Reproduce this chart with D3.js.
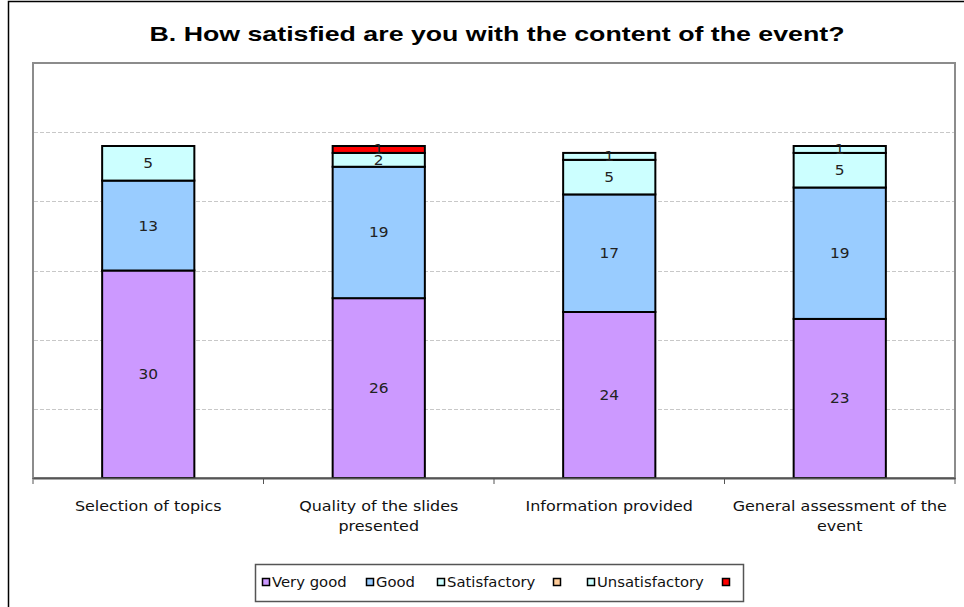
<!DOCTYPE html>
<html>
<head>
<meta charset="utf-8">
<script src="https://cdn.jsdelivr.net/npm/d3@7"></script>
<style>
  html, body { margin: 0; padding: 0; background: #fff; }
  svg { display: block; }
</style>
</head>
<body>
<svg id="chart" width="964" height="607"></svg>
<script>
// ---- data ----
const categories = [
  ["Selection of topics"],
  ["Quality of the slides", "presented"],
  ["Information provided"],
  ["General assessment of the", "event"]
];
const seriesNames = ["Very good", "Good", "Satisfactory", "", "Unsatisfactory", ""];
const veryGood      = [30, 26, 24, 23];
const good          = [13, 19, 17, 19];
const satisfactory  = [5, 2, 5, 5];
const blankOrange   = [0, 0, 0, 0];
const unsatisfactory= [0, 0, 1, 1];
const blankRed      = [0, 1, 0, 0];
const seriesColors  = ["#CC99FF", "#99CCFF", "#CCFFFF", "#FFCC99", "#CCFFFF", "#FF0000"];
const yTicks = [0, 10, 20, 30, 40, 50, 60];
const chartTitle = "B. How satisfied are you with the content of the event?";

const seriesValues = [veryGood, good, satisfactory, blankOrange, unsatisfactory, blankRed];
const table = categories.map((c, i) => {
  const row = { idx: i };
  seriesValues.forEach((s, k) => row["s" + k] = s[i]);
  return row;
});
const keys = seriesValues.map((_, k) => "s" + k);

const svg = d3.select("#chart");
const bodyFont = "Tahoma, 'DejaVu Sans', sans-serif";

// outer chart border
svg.append("rect").attr("x", 8.5).attr("y", 1.5).attr("width", 964).attr("height", 620)
  .attr("fill", "#fff").attr("stroke", "#000").attr("stroke-width", 1.5);

// title
svg.append("text").attr("x", 497).attr("y", 41).attr("text-anchor", "middle")
  .attr("font-family", "Arial, 'Liberation Sans', sans-serif").attr("font-weight", "bold")
  .attr("font-size", 21).attr("fill", "#000")
  .attr("textLength", 695).attr("lengthAdjust", "spacingAndGlyphs")
  .text(chartTitle);

const plot = { left: 33, right: 955, top: 63, bottom: 478 };

const x = d3.scaleBand().domain(d3.range(categories.length))
  .range([plot.left, plot.right]).padding(0);
const y = d3.scaleLinear().domain([0, 60]).range([plot.bottom, plot.top]);

// plot area frame
svg.append("rect").attr("x", plot.left).attr("y", plot.top)
  .attr("width", plot.right - plot.left).attr("height", plot.bottom - plot.top)
  .attr("fill", "#fff").attr("stroke", "#8c8c8c").attr("stroke-width", 2);

// gridlines
svg.append("g").selectAll("line").data(yTicks.filter(t => t > 0 && t < 60)).join("line")
  .attr("x1", plot.left + 1).attr("x2", plot.right - 1)
  .attr("y1", d => Math.round(y(d)) + 0.5).attr("y2", d => Math.round(y(d)) + 0.5)
  .attr("stroke", "#c8c8c8").attr("stroke-width", 1).attr("stroke-dasharray", "4,2");

// stacked bars
const stack = d3.stack().keys(keys)(table);
const barW = x.bandwidth() * 0.4;
const barX = i => x(i) + (x.bandwidth() - barW) / 2;

const layers = svg.append("g").selectAll("g").data(stack).join("g")
  .attr("fill", (d, k) => seriesColors[k]);
layers.selectAll("rect").data(d => d.filter(p => p[1] - p[0] > 0)).join("rect")
  .attr("x", p => barX(p.data.idx))
  .attr("y", p => y(p[1]))
  .attr("width", barW)
  .attr("height", p => y(p[0]) - y(p[1]))
  .attr("stroke", "#000").attr("stroke-width", 2);

// value labels
const labels = svg.append("g");
stack.forEach((layer, k) => {
  layer.forEach(p => {
    const v = p[1] - p[0];
    if (v <= 0) return;
    const cx = barX(p.data.idx) + barW / 2;
    labels.append("text")
      .attr("transform", `translate(${cx},${(y(p[0]) + y(p[1])) / 2 + 5}) scale(1.1,1)`)
      .attr("text-anchor", "middle")
      .attr("font-family", bodyFont)
      .attr("font-size", 14).attr("fill", "#222")
      .text(v);
  });
});

// x axis
const axis = d3.axisBottom(x).tickSize(0).tickFormat("");
const ax = svg.append("g").attr("transform", `translate(0,${plot.bottom})`).call(axis);
ax.select(".domain").attr("stroke", "#555").attr("stroke-width", 2);
// boundary tick marks
const bounds = d3.range(categories.length + 1).map(i => plot.left + i * x.step());
svg.append("g").selectAll("line").data(bounds).join("line")
  .attr("x1", d => d).attr("x2", d => d)
  .attr("y1", plot.bottom).attr("y2", plot.bottom + 6)
  .attr("stroke", "#555").attr("stroke-width", 1);

// category labels
categories.forEach((lines, i) => {
  const cx = x(i) + x.bandwidth() / 2;
  lines.forEach((ln, j) => {
    svg.append("text").attr("text-anchor", "middle")
      .attr("transform", `translate(${cx},${511 + j * 20}) scale(1.14,1)`)
      .attr("font-family", bodyFont)
      .attr("font-size", 14).attr("fill", "#111").text(ln);
  });
});

// legend
const lg = svg.append("g");
lg.append("rect").attr("x", 255.5).attr("y", 564.5).attr("width", 488).attr("height", 37)
  .attr("fill", "#fff").attr("stroke", "#555").attr("stroke-width", 1.5);
const legendX = [262, 366, 437, 553, 587, 722];
seriesNames.forEach((name, k) => {
  lg.append("rect").attr("x", legendX[k] + 0.5).attr("y", 578.5).attr("width", 7).attr("height", 7)
    .attr("fill", seriesColors[k]).attr("stroke", "#000").attr("stroke-width", 1.5);
  if (name) {
    lg.append("text")
      .attr("transform", `translate(${legendX[k] + 10},587) scale(1.06,1)`)
      .attr("font-family", bodyFont)
      .attr("font-size", 14).attr("fill", "#111").text(name);
  }
});
</script>
</body>
</html>
